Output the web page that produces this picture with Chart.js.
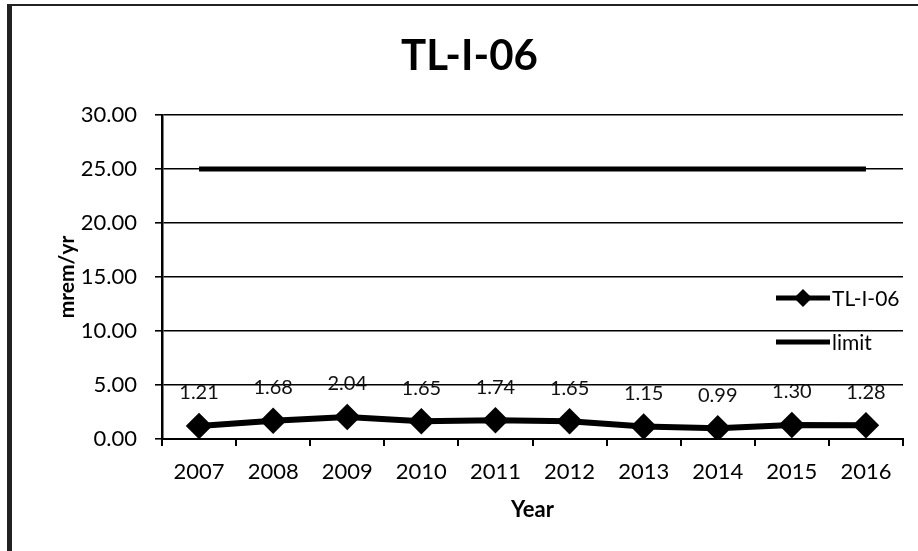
<!DOCTYPE html>
<html>
<head>
<meta charset="utf-8">
<title>TL-I-06</title>
<script src="https://cdn.jsdelivr.net/npm/chart.js@4.4.0/dist/chart.umd.min.js"></script>
<style>
    html, body { margin: 0; padding: 0; background: #fff; }
    #wrap { position: relative; width: 918px; height: 551px; }
</style>
</head>
<body>
<div id="wrap"><canvas id="doseChart" width="918" height="551"></canvas></div>
<script>
// dosis anual por año
const years = ['2007', '2008', '2009', '2010', '2011', '2012', '2013', '2014', '2015', '2016'];
const tl106 = [1.21, 1.68, 2.04, 1.65, 1.74, 1.65, 1.15, 0.99, 1.30, 1.28];
const limite = [25, 25, 25, 25, 25, 25, 25, 25, 25, 25];
const yTicks = [0, 5, 10, 15, 20, 25, 30];

const fuente = 'Lato, "Open Sans", sans-serif';

// marco del gráfico (borde izquierdo y superior)
const marco = {
    id: 'marco',
    beforeDraw(chart) {
        const c = chart.ctx;
        c.save();
        c.fillStyle = '#fff';
        c.fillRect(0, 0, chart.width, chart.height);
        c.fillStyle = '#222';
        c.fillRect(7, 4, 5, chart.height - 4);
        c.fillRect(7, 4, chart.width - 7, 2);
        c.restore();
    }
};

// etiquetas con el valor encima de cada punto
const etiquetas = {
    id: 'etiquetas',
    afterDatasetsDraw(chart) {
        const c = chart.ctx;
        const meta = chart.getDatasetMeta(0);
        c.save();
        c.font = '20px ' + fuente;
        c.fillStyle = '#111';
        c.textAlign = 'center';
        c.textBaseline = 'middle';
        meta.data.forEach((p, i) => {
            c.fillText(tl106[i].toFixed(2), p.x, p.y - 33);
        });
        c.restore();
    }
};

// leyenda a la derecha, dentro del área del gráfico
const leyenda = {
    id: 'leyenda',
    afterDraw(chart) {
        const c = chart.ctx;
        const x0 = chart.chartArea.right - 127;
        let y = 298;
        c.save();
        chart.data.datasets.forEach(ds => {
            c.strokeStyle = ds.borderColor;
            c.lineWidth = 5;
            c.beginPath();
            c.moveTo(x0, y);
            c.lineTo(x0 + 54, y);
            c.stroke();
            if (ds.pointRadius > 0) {
                const r = ds.pointRadius;
                c.fillStyle = ds.backgroundColor;
                c.beginPath();
                c.moveTo(x0 + 27, y - r);
                c.lineTo(x0 + 27 + r, y);
                c.lineTo(x0 + 27, y + r);
                c.lineTo(x0 + 27 - r, y);
                c.closePath();
                c.fill();
            }
            c.font = '21px ' + fuente;
            c.fillStyle = '#000';
            c.textAlign = 'left';
            c.textBaseline = 'middle';
            c.fillText(ds.label, x0 + 56, y + 1);
            y += 44;
        });
        c.restore();
    }
};

const ctx = document.getElementById('doseChart').getContext('2d');

const grafico = new Chart(ctx, {
    type: 'line',
    data: {
        labels: years,
        datasets: [{
            label: 'TL-I-06',
            data: tl106,
            borderColor: '#000',
            backgroundColor: '#000',
            borderWidth: 6,
            pointStyle: 'rectRot',
            pointRadius: 9,
            pointHoverRadius: 9,
            tension: 0
        }, {
            label: 'limit',
            data: limite,
            borderColor: '#000',
            backgroundColor: '#000',
            borderWidth: 5,
            pointRadius: 0,
            tension: 0
        }]
    },
    options: {
        responsive: false,
        animation: false,
        layout: {
            padding: { left: 36, right: 15, top: 0, bottom: 0 }
        },
        plugins: {
            legend: { display: false },
            tooltip: { enabled: false },
            title: {
                display: true,
                text: 'TL-I-06',
                color: '#000',
                font: { family: fuente, size: 42, weight: 'bold', lineHeight: 1.2 },
                padding: { top: 31, bottom: 33.6 }
            }
        },
        scales: {
            x: {
                offset: true,
                grid: {
                    offset: true,
                    drawOnChartArea: false,
                    drawTicks: true,
                    tickLength: 7,
                    color: '#000',
                    lineWidth: 2
                },
                border: { display: true, color: '#000', width: 2 },
                ticks: {
                    color: '#000',
                    padding: 13,
                    font: { family: fuente, size: 22 },
                    maxRotation: 0
                },
                title: {
                    display: true,
                    text: 'Year',
                    color: '#000',
                    font: { family: fuente, size: 22, weight: 'bold', lineHeight: 1.2 },
                    padding: { top: 0, bottom: 28 }
                },
                afterFit(scale) { scale.height = 112; }
            },
            y: {
                min: 0,
                max: 30,
                afterBuildTicks(scale) {
                    scale.ticks = yTicks.map(v => ({ value: v }));
                },
                grid: {
                    color: '#000',
                    lineWidth: 1.6,
                    tickLength: 7
                },
                border: { display: true, color: '#000', width: 2.5 },
                ticks: {
                    color: '#000',
                    padding: 18,
                    font: { family: fuente, size: 22 },
                    callback: v => v.toFixed(2)
                },
                title: {
                    display: true,
                    text: 'mrem/yr',
                    color: '#000',
                    font: { family: fuente, size: 21, weight: 'bold', lineHeight: 1.2 },
                    padding: { top: 19, bottom: 0 }
                },
                afterFit(scale) { scale.width = 126; }
            }
        }
    },
    plugins: [marco, etiquetas, leyenda]
});
</script>
</body>
</html>
